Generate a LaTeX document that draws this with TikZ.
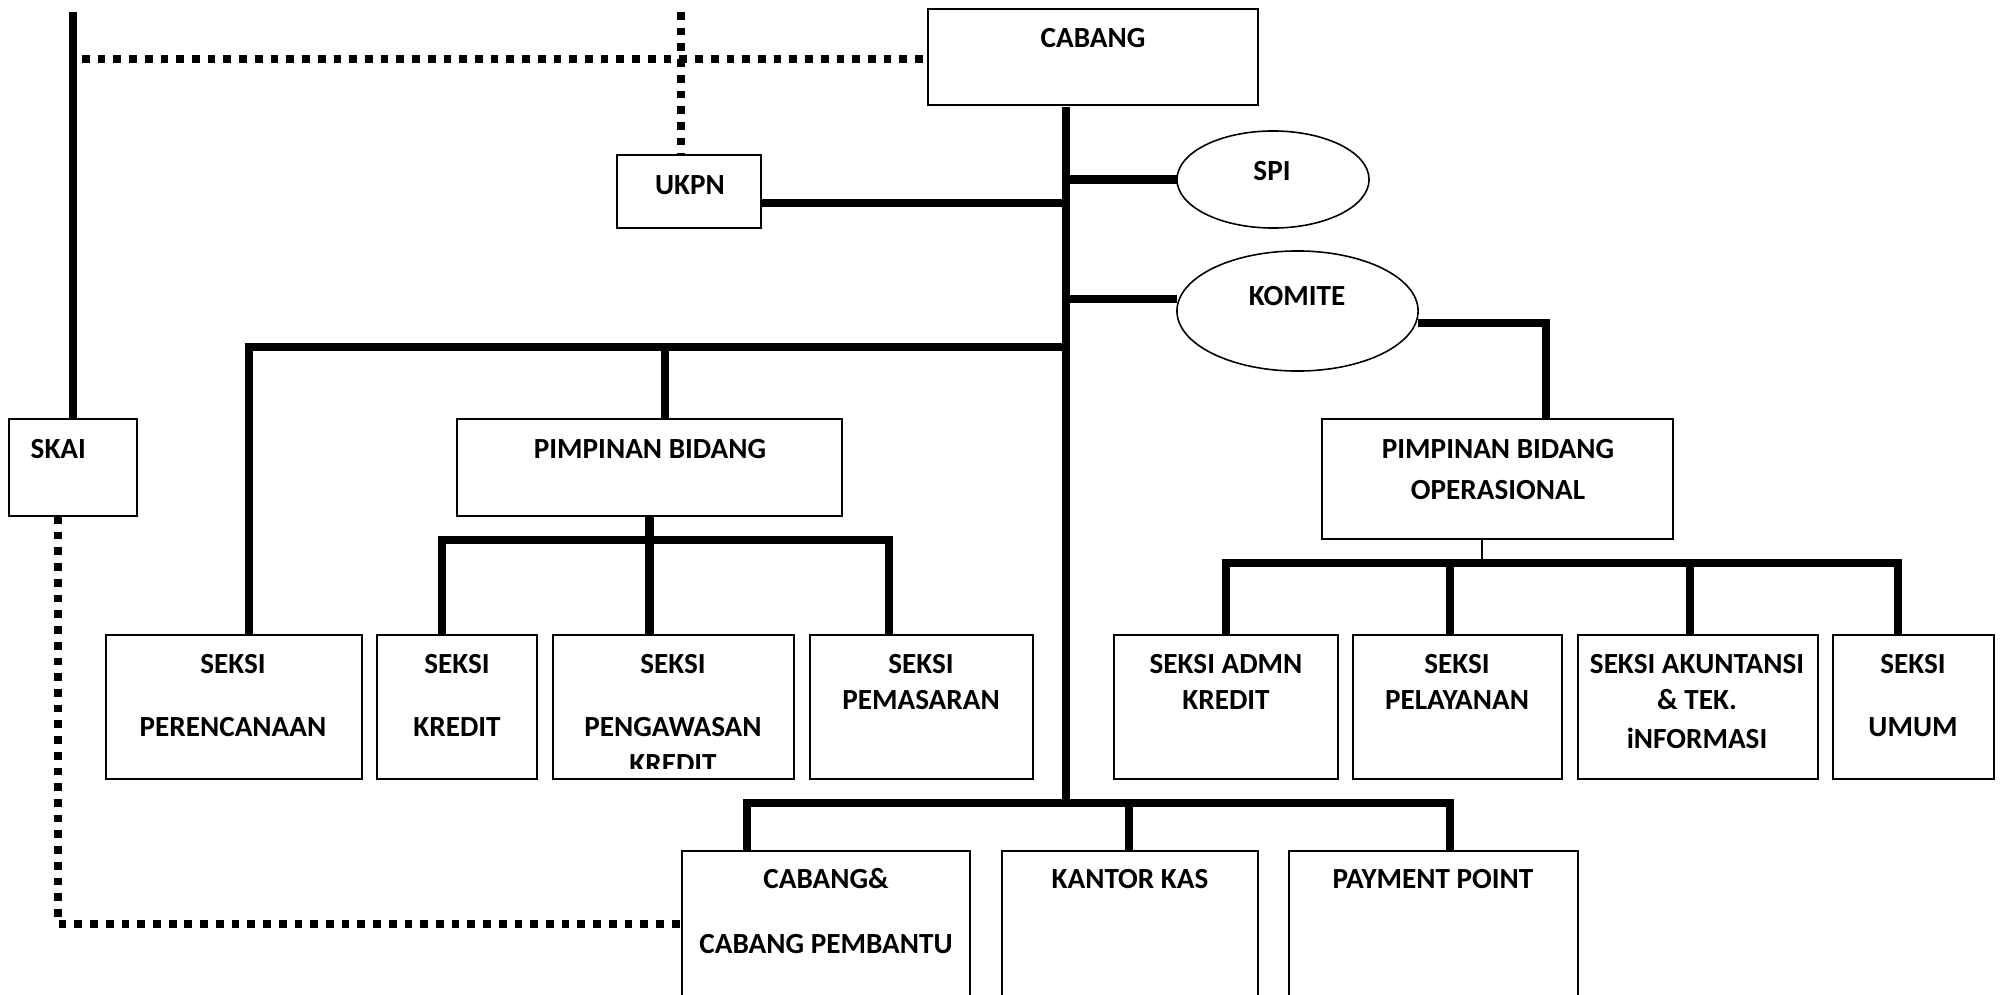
\documentclass[tikz,border=0pt]{standalone}
\usepackage{fontspec}
\setmainfont{Carlito}
\usetikzlibrary{shapes.geometric}
\begin{document}
\begin{tikzpicture}[x=0.01cm,y=-0.01cm,
  box/.style={draw, line width=0.45pt, inner sep=0, outer sep=0},
  oval/.style={draw, ellipse, line width=0.45pt, inner sep=0, outer sep=0},
  lbl/.style={font=\bfseries\fontsize{8.3}{10}\selectfont, inner sep=0, anchor=base},
  heavy/.style={line width=2.3pt},
  dots/.style={line width=2.3pt, dash pattern=on 2.2pt off 2.27pt},
  thin/.style={line width=0.4pt}]
\useasboundingbox (0,0) rectangle (2001,994);
\clip (0,0) rectangle (2001,994);
\fill[white] (0,0) rectangle (2001,994);

% boxes
\node[box, minimum width=3.30cm, minimum height=0.96cm] (cabang) at (1093,57) {};
\node[box, minimum width=1.44cm, minimum height=0.73cm] (ukpn) at (689,191.5) {};
\node[oval, minimum width=1.92cm, minimum height=0.97cm] (spi) at (1273,179.5) {};
\node[oval, minimum width=2.41cm, minimum height=1.20cm] (komite) at (1297.5,311) {};
\node[box, minimum width=1.28cm, minimum height=0.97cm] (skai) at (73,467.5) {};
\node[box, minimum width=3.85cm, minimum height=0.97cm] (pb) at (649.5,467.5) {};
\node[box, minimum width=3.51cm, minimum height=1.20cm] (pbo) at (1497.5,479) {};
\node[box, minimum width=2.56cm, minimum height=1.44cm] (per) at (234,707) {};
\node[box, minimum width=1.60cm, minimum height=1.44cm] (kre) at (457,707) {};
\node[box, minimum width=2.41cm, minimum height=1.44cm] (peng) at (673.5,707) {};
\node[box, minimum width=2.23cm, minimum height=1.44cm] (pem) at (921.5,707) {};
\node[box, minimum width=2.24cm, minimum height=1.44cm] (adm) at (1226,707) {};
\node[box, minimum width=2.09cm, minimum height=1.44cm] (pel) at (1457.5,707) {};
\node[box, minimum width=2.40cm, minimum height=1.44cm] (aku) at (1698,707) {};
\node[box, minimum width=1.61cm, minimum height=1.44cm] (umum) at (1913.5,707) {};
\node[box, minimum width=2.88cm, minimum height=1.59cm] (cab2) at (826,930.5) {};
\node[box, minimum width=2.56cm, minimum height=1.59cm] (kk) at (1130,930.5) {};
\node[box, minimum width=2.89cm, minimum height=1.59cm] (pp) at (1433.5,930.5) {};

% texts
\node[lbl] (t-cabang) at (1093,48) {CABANG};
\node[lbl] (t-ukpn) at (690,194) {UKPN};
\node[lbl] (t-spi) at (1272,181) {SPI};
\node[lbl] (t-komite) at (1297,305) {KOMITE};
\node[lbl, anchor=base west] (t-skai) at (30,458) {SKAI};
\node[lbl] (t-pb) at (650,458) {PIMPINAN BIDANG};
\node[lbl] (t-pbo1) at (1498,458) {PIMPINAN BIDANG};
\node[lbl] (t-pbo2) at (1498,499) {OPERASIONAL};
\node[lbl] (t-per1) at (233,673) {SEKSI};
\node[lbl] (t-per2) at (233,736) {PERENCANAAN};
\node[lbl] (t-kre1) at (457,673) {SEKSI};
\node[lbl] (t-kre2) at (457,736) {KREDIT};
\node[lbl] (t-peng1) at (673,673) {SEKSI};
\node[lbl] (t-peng2) at (673,736) {PENGAWASAN};
\begin{scope}
  \clip (553,740) rectangle (794,768);
  \node[lbl] (t-peng3) at (673,773) {KREDIT};
\end{scope}
\node[lbl] (t-pem1) at (921,673) {SEKSI};
\node[lbl] (t-pem2) at (921,709) {PEMASARAN};
\node[lbl] (t-adm1) at (1226,673) {SEKSI ADMN};
\node[lbl] (t-adm2) at (1226,709) {KREDIT};
\node[lbl] (t-pel1) at (1457,673) {SEKSI};
\node[lbl] (t-pel2) at (1457,709) {PELAYANAN};
\node[lbl] (t-aku1) at (1697,673) {SEKSI AKUNTANSI};
\node[lbl] (t-aku2) at (1697,709) {\& TEK.};
\node[lbl] (t-aku3) at (1697,748) {iNFORMASI};
\node[lbl] (t-umum1) at (1913,673) {SEKSI};
\node[lbl] (t-umum2) at (1913,736) {UMUM};
\node[lbl] (t-cab1) at (826,888) {CABANG\&};
\node[lbl] (t-cab2) at (826,953) {CABANG PEMBANTU};
\node[lbl] (t-kk) at (1130,888) {KANTOR KAS};
\node[lbl] (t-pp) at (1433,888) {PAYMENT POINT};

% junction coordinates
\coordinate (trunkTop) at (1066,107);
\coordinate (trunkBot) at (1066,803);
\coordinate (jukpn) at (1066,203);
\coordinate (jspi) at (1066,179.5);
\coordinate (jkom) at (1066,299);
\coordinate (jkr) at (1546,323);
\coordinate (jleft) at (1066,347);
\coordinate (cper) at (249,347);
\coordinate (cpb) at (665,347);
\coordinate (bpbL) at (442,540);
\coordinate (bpbR) at (889,540);
\coordinate (opT) at (1482,539);
\coordinate (opB) at (1482,563);
\coordinate (bopL) at (1226,563);
\coordinate (bop2) at (1450,563);
\coordinate (bop3) at (1690,563);
\coordinate (bopR) at (1898,563);
\coordinate (bbL) at (747,803);
\coordinate (bbM) at (1129,803);
\coordinate (bbR) at (1450,803);
\coordinate (skaiTop) at (73,12);
\coordinate (hTop) at (82,59);
\coordinate (ukTop) at (681,12);
\coordinate (skD) at (58,924);

% solid connectors
\draw[heavy] (trunkTop) -- (trunkBot);
\draw[heavy] (ukpn.east |- jukpn) -- (jukpn);
\draw[heavy] (jspi) -- (spi.west);
\draw[heavy] (jkom) -- (komite.west |- jkom);
\draw[heavy] (komite.east |- jkr) -- (jkr) -- (jkr |- pbo.north);
\draw[heavy] (jleft) -- (cper) -- (cper |- per.north);
\draw[heavy] (cpb) -- (cpb |- pb.north);
\draw[heavy] (pb.south) -- (pb.south |- peng.north);
\draw[heavy] (bpbL |- kre.north) -- (bpbL) -- (bpbR) -- (bpbR |- pem.north);
\draw[thin] (opT) -- (opB);
\draw[heavy] (bopL |- adm.north) -- (bopL) -- (bopR) -- (bopR |- umum.north);
\draw[heavy] (bop2) -- (bop2 |- pel.north);
\draw[heavy] (bop3) -- (bop3 |- aku.north);
\draw[heavy] (bbL |- cab2.north) -- (bbL) -- (bbR) -- (bbR |- pp.north);
\draw[heavy] (bbM) -- (bbM |- kk.north);
\draw[heavy] (skaiTop) -- (skai.north);

% dotted connectors
\draw[dots] (hTop) -- (cabang.west |- hTop);
\draw[dots] (ukTop) -- (ukTop |- ukpn.north);
\draw[dots] (skD |- skai.south) -- (skD) -- (cab2.west |- skD);
\end{tikzpicture}
\end{document}
